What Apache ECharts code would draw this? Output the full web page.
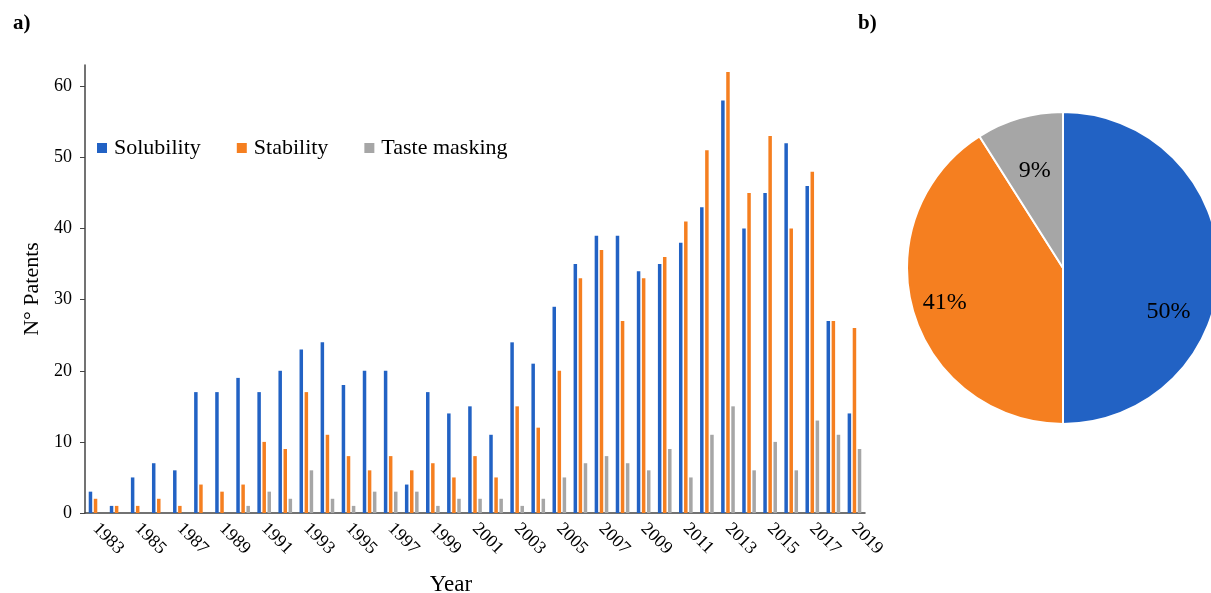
<!DOCTYPE html>
<html>
<head>
<meta charset="utf-8">
<script src="https://cdn.jsdelivr.net/npm/echarts@6/dist/echarts.min.js"></script>
<style>html,body{margin:0;padding:0;background:#fff}#c{width:1211px;height:593px}</style>
</head>
<body>
<div id="c"></div>
<script>
const years = ['1983','1984','1985','1986','1987','1988','1989','1990','1991','1992','1993','1994','1995','1996','1997','1998','1999','2000','2001','2002','2003','2004','2005','2006','2007','2008','2009','2010','2011','2012','2013','2014','2015','2016','2017','2018','2019'];
const solubility = [3,1,5,7,6,17,17,19,17,20,23,24,18,20,20,4,17,14,15,11,24,21,29,35,39,39,34,35,38,43,58,40,45,52,46,27,14];
const stability = [2,1,1,2,1,4,3,4,10,9,17,11,8,6,8,6,7,5,8,5,15,12,20,33,37,27,33,36,41,51,62,45,53,40,48,27,26];
const tasteMasking = [0,0,0,0,0,0,0,1,3,2,6,2,1,3,3,3,1,2,2,2,1,2,5,7,8,7,6,9,5,11,15,6,10,6,13,11,9];
const yTicks = [0,10,20,30,40,50,60];
const pieNames = ['Solubility','Stability','Taste masking'];
const pieShares = [50,41,9];

const serif = '"Liberation Serif", "Times New Roman", serif';
const cBlue = '#2262c4', cOrange = '#f57f20', cGray = '#a6a6a6';
const pieCenter = [1063, 268];

const chart = echarts.init(document.getElementById('c'));
chart.setOption({
  animation: false,
  textStyle: {fontFamily: serif},
  title: [
    {text: 'a)', left: 8, top: 8, textStyle: {fontFamily: serif, fontSize: 21, fontWeight: 'bold', color: '#000'}},
    {text: 'b)', left: 853, top: 8, textStyle: {fontFamily: serif, fontSize: 21, fontWeight: 'bold', color: '#000'}}
  ],
  legend: {
    data: pieNames,
    left: 92, top: 132,
    itemWidth: 10, itemHeight: 10, itemGap: 36,
    icon: 'rect',
    textStyle: {fontFamily: serif, fontSize: 22, color: '#000', padding: [0, 0, 0, 2]}
  },
  grid: {left: 85, right: 346, top: 65, bottom: 80, outerBoundsMode: 'none'},
  xAxis: {
    type: 'category', data: years,
    name: 'Year', nameLocation: 'middle', nameGap: 60,
    nameTextStyle: {fontFamily: serif, fontSize: 23, color: '#000', padding: [0, 48, 0, 0]},
    axisLine: {lineStyle: {color: '#444', width: 1.5}},
    axisTick: {show: false},
    axisLabel: {interval: 1, rotate: -45, margin: 13, fontFamily: serif, fontSize: 18, color: '#000'}
  },
  yAxis: {
    type: 'value', min: 0, max: 63,
    name: 'N° Patents', nameLocation: 'middle', nameGap: 42,
    nameTextStyle: {fontFamily: serif, fontSize: 22, color: '#000'},
    axisLine: {show: true, lineStyle: {color: '#444', width: 1.5}},
    axisTick: {show: true, length: 5, customValues: yTicks, lineStyle: {color: '#444'}},
    axisLabel: {customValues: yTicks, margin: 13, fontFamily: serif, fontSize: 18, color: '#000'},
    splitLine: {show: false}
  },
  series: [
    {name: 'Solubility', type: 'bar', data: solubility, barWidth: 3.5, barGap: '45%', itemStyle: {color: cBlue}},
    {name: 'Stability', type: 'bar', data: stability, barWidth: 3.5, barGap: '45%', itemStyle: {color: cOrange}},
    {name: 'Taste masking', type: 'bar', data: tasteMasking, barWidth: 3.5, barGap: '45%', itemStyle: {color: cGray}},
    {
      type: 'pie', center: pieCenter, radius: 156, startAngle: 90, clockwise: true,
      data: pieNames.map((n, i) => ({name: n, value: pieShares[i], itemStyle: {color: [cBlue, cOrange, cGray][i]}})),
      itemStyle: {borderColor: '#fff', borderWidth: 2},
      label: {position: 'inside', formatter: p => p.value + '%', fontFamily: serif, fontSize: 24, color: '#000'},
      labelLine: {show: false},
      labelLayout: function (params) {
        const r = params.labelRect;
        const lx = r.x + r.width / 2, ly = r.y + r.height / 2;
        const f = [0.45, 0.52, 0.25][params.dataIndex];
        let dx = (lx - pieCenter[0]) * f, dy = (ly - pieCenter[1]) * f;
        if (params.dataIndex === 0) { dx -= 12; dy += 44; }
        return {dx: dx, dy: dy};
      },
      emphasis: {disabled: true}
    }
  ]
});
</script>
</body>
</html>
